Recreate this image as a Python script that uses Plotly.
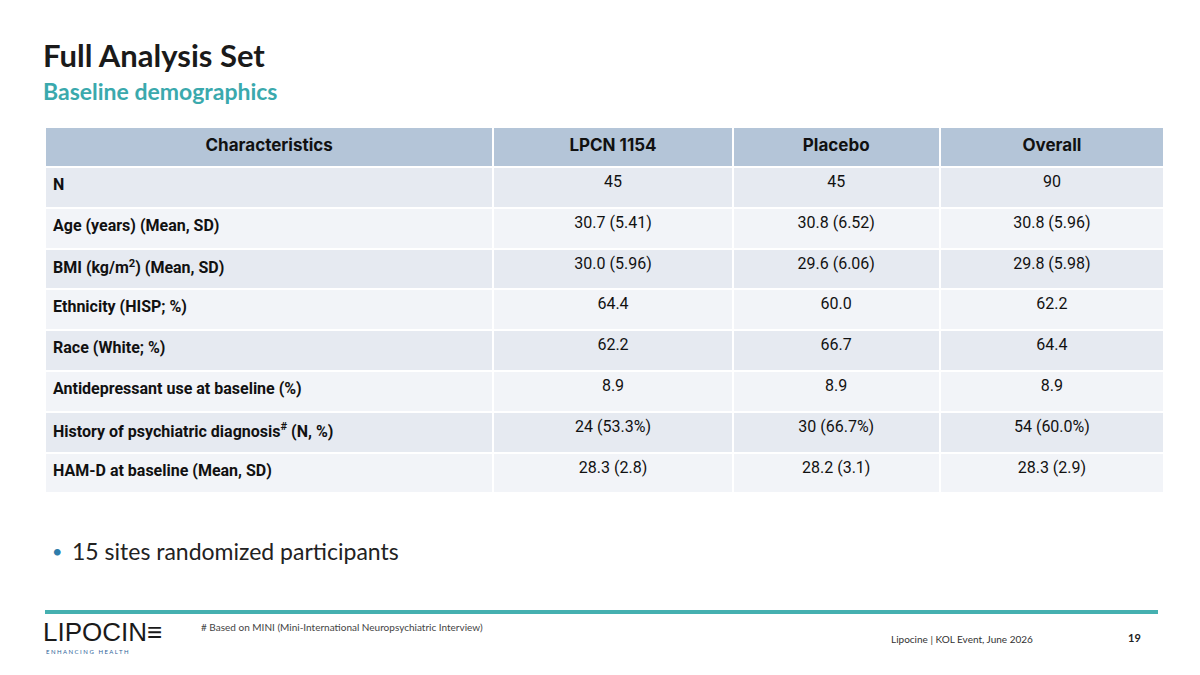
import plotly.graph_objects as go

header = ["Characteristics", "LPCN 1154", "Placebo", "Overall"]
characteristics = ["N", "Age (years) (Mean, SD)", "BMI (kg/m<sup>2</sup>) (Mean, SD)",
                   "Ethnicity (HISP; %)", "Race (White; %)", "Antidepressant use at baseline (%)",
                   "History of psychiatric diagnosis<sup>#</sup> (N, %)", "HAM-D at baseline (Mean, SD)"]
lpcn = ["45", "30.7 (5.41)", "30.0 (5.96)", "64.4", "62.2", "8.9", "24 (53.3%)", "28.3 (2.8)"]
placebo = ["45", "30.8 (6.52)", "29.6 (6.06)", "60.0", "66.7", "8.9", "30 (66.7%)", "28.2 (3.1)"]
overall = ["90", "30.8 (5.96)", "29.8 (5.98)", "62.2", "64.4", "8.9", "54 (60.0%)", "28.3 (2.9)"]

W, H = 1200, 675
OX, OY = 8, 8  # page offset
row_colors = ["#e6eaf1" if i % 2 == 0 else "#f2f4f8" for i in range(len(characteristics))]

def px(x):
    return (x - OX) / W

def py(y):
    return 1 - (y - OY) / H

fig = go.Figure(go.Table(
    domain=dict(x=[px(45), px(1165)], y=[py(495), py(127)]),
    columnwidth=[448, 239, 207, 224],
    header=dict(values=[f"<b>{h}</b>" for h in header], fill_color="#b4c5d8",
                line=dict(color="white", width=2), align="center", height=40,
                font=dict(family="Inter, Roboto, sans-serif", size=17, color="#111111")),
    cells=dict(values=[[f"<b>{c}</b>" for c in characteristics], lpcn, placebo, overall],
               fill_color=[row_colors] * 4, line=dict(color="white", width=2),
               align=["left", "center", "center", "center"], height=40.8,
               font=dict(family="Roboto, Inter, sans-serif", size=16, color="#111111")),
))

fig.update_layout(width=W, height=H, margin=dict(l=0, r=0, t=0, b=0),
                  paper_bgcolor="white", plot_bgcolor="white")

def txt(x, y, s, size, color, family="Lato, 'Open Sans', sans-serif", anchor="left"):
    fig.add_annotation(x=px(x), y=py(y), xref="paper", yref="paper", text=s,
                       showarrow=False, xanchor=anchor, yanchor="middle",
                       font=dict(size=size, color=color, family=family))

txt(41, 55, "<b>Full Analysis Set</b>", 31, "#1a1a1a")
txt(41, 91, "<b>Baseline demographics</b>", 23, "#3aa9ad")
txt(50, 551, "•", 18, "#2e7dab")
txt(70, 551, "15 sites randomized participants", 23, "#222222")

fig.add_shape(type="line", xref="paper", yref="paper", x0=px(45), x1=px(1158),
              y0=py(612), y1=py(612), line=dict(color="#45b0b0", width=4))

txt(199, 627, "# Based on MINI (Mini-International Neuropsychiatric Interview)", 10, "#444444")
txt(1035, 639, "Lipocine | KOL Event, June 2026", 10, "#333333", anchor="right")
txt(1143, 637, "<b>19</b>", 11, "#222222", anchor="right")
txt(41, 632, "LIPOCIN\u2261", 26, "#1a1a1a", family="'DejaVu Sans ExtraLight', 'Liberation Sans Narrow', sans-serif")
txt(44, 651, "E N H A N C I N G   H E A L T H", 6, "#2e5f99")

fig.write_html("out.html")
